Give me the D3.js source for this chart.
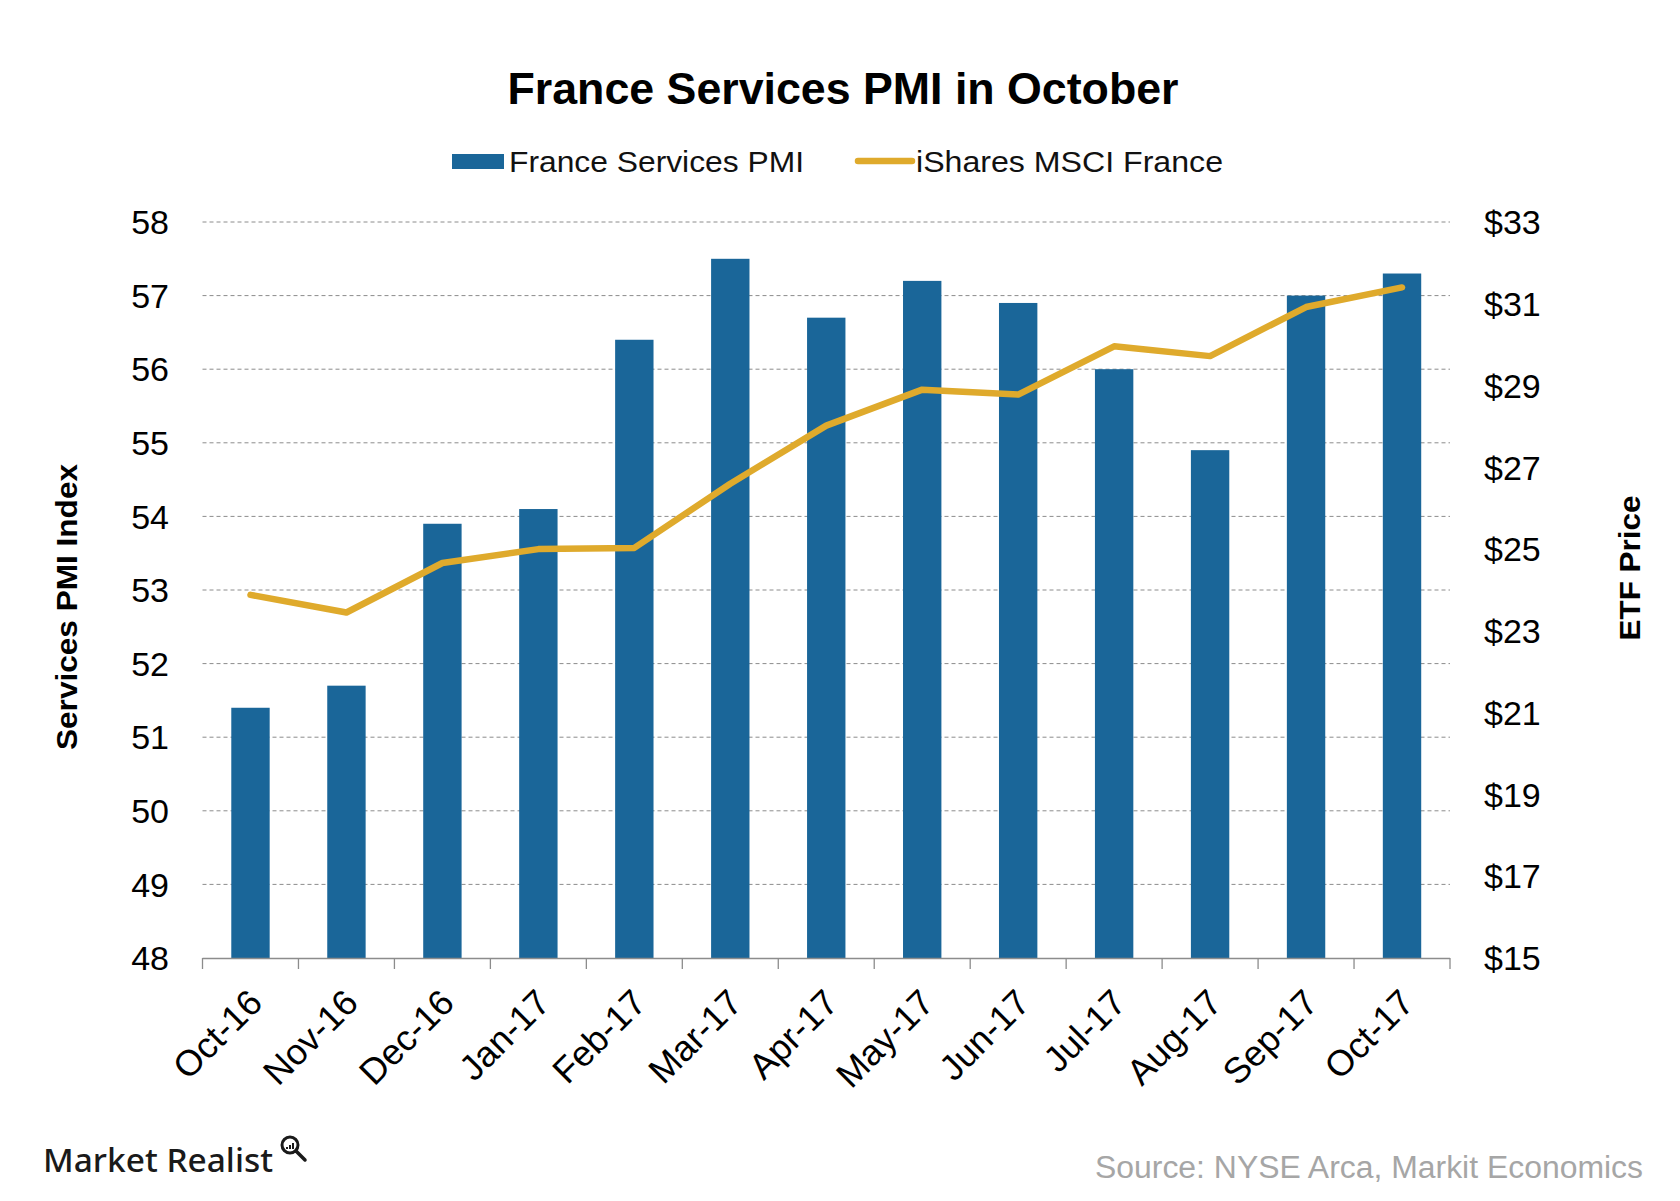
<!DOCTYPE html>
<html>
<head>
<meta charset="utf-8">
<script src="https://cdn.jsdelivr.net/npm/d3@7"></script>
<style>
  html, body { margin: 0; padding: 0; background: #fff; }
  svg { display: block; font-family: "Liberation Sans", Arial, sans-serif; }
</style>
</head>
<body>
<svg id="chart" width="1680" height="1201"></svg>
<script>
// ---- data ----
const categories = ["Oct-16","Nov-16","Dec-16","Jan-17","Feb-17","Mar-17","Apr-17","May-17","Jun-17","Jul-17","Aug-17","Sep-17","Oct-17"];
const pmiValues = [51.4, 51.7, 53.9, 54.1, 56.4, 57.5, 56.7, 57.2, 56.9, 56.0, 54.9, 57.0, 57.3];
const etfValues = [23.88, 23.45, 24.66, 25.0, 25.03, 26.6, 28.02, 28.9, 28.78, 29.96, 29.72, 30.92, 31.4];
const leftTicks = [48, 49, 50, 51, 52, 53, 54, 55, 56, 57, 58];
const rightTicks = [15, 17, 19, 21, 23, 25, 27, 29, 31, 33];
const seriesNames = ["France Services PMI", "iShares MSCI France"];
const titleText = "France Services PMI in October";
const leftAxisTitle = "Services PMI Index";
const rightAxisTitle = "ETF Price";
const sourceText = "Source: NYSE Arca, Markit Economics";
const logoText = "Market Realist";

// ---- layout ----
const svg = d3.select("#chart");
const plot = { left: 202.5, right: 1450, top: 222, bottom: 958 };
const barColor = "#1a6699";
const lineColor = "#dfaa2c";

const x = d3.scaleBand().domain(categories).range([plot.left, plot.right]).paddingInner(0.6).paddingOuter(0.3);
const yL = d3.scaleLinear().domain([48, 58]).range([plot.bottom, plot.top]);
const yR = d3.scaleLinear().domain([15, 33]).range([plot.bottom, plot.top]);

// title
svg.append("text").attr("x", 843).attr("y", 104).attr("text-anchor", "middle")
  .attr("font-size", 44).attr("font-weight", "bold").attr("fill", "#000")
  .attr("textLength", 671).attr("lengthAdjust", "spacingAndGlyphs")
  .text(titleText);

// legend
const lg = svg.append("g");
lg.append("rect").attr("x", 452).attr("y", 154).attr("width", 52).attr("height", 15).attr("fill", barColor);
lg.append("text").attr("x", 509).attr("y", 172).attr("font-size", 30).attr("fill", "#111")
  .attr("textLength", 295).attr("lengthAdjust", "spacingAndGlyphs").text(seriesNames[0]);
lg.append("line").attr("x1", 858).attr("x2", 912).attr("y1", 161).attr("y2", 161)
  .attr("stroke", lineColor).attr("stroke-width", 6.5).attr("stroke-linecap", "round");
lg.append("text").attr("x", 916).attr("y", 172).attr("font-size", 30).attr("fill", "#111")
  .attr("textLength", 307).attr("lengthAdjust", "spacingAndGlyphs").text(seriesNames[1]);

// gridlines
svg.append("g").selectAll("line").data(leftTicks.filter(d => d > 48)).join("line")
  .attr("x1", plot.left).attr("x2", plot.right)
  .attr("y1", d => yL(d)).attr("y2", d => yL(d))
  .attr("stroke", "#8c8c8c").attr("stroke-width", 1).attr("stroke-dasharray", "4,3");

// bars
svg.append("g").selectAll("rect").data(categories).join("rect")
  .attr("x", d => x(d)).attr("width", x.bandwidth())
  .attr("y", (d, i) => yL(pmiValues[i]))
  .attr("height", (d, i) => yL(48) - yL(pmiValues[i]))
  .attr("fill", barColor);

// x axis line + ticks at category boundaries
const ax = svg.append("g");
ax.append("line").attr("x1", plot.left).attr("x2", plot.right).attr("y1", plot.bottom + 0.5).attr("y2", plot.bottom + 0.5)
  .attr("stroke", "#8c8c8c").attr("stroke-width", 1.3);
const boundaries = d3.range(categories.length + 1).map(i => plot.left + i * x.step());
ax.selectAll("line.tk").data(boundaries).join("line").attr("class", "tk")
  .attr("x1", d => d).attr("x2", d => d).attr("y1", plot.bottom).attr("y2", plot.bottom + 11)
  .attr("stroke", "#8c8c8c").attr("stroke-width", 1.3);

// x labels
ax.selectAll("text").data(categories).join("text")
  .attr("transform", d => `translate(${x(d) + x.bandwidth() / 2 - 4},${plot.bottom + 29}) rotate(-45)`)
  .attr("text-anchor", "end").attr("dy", "0.7em")
  .attr("font-size", 36).attr("fill", "#000").text(d => d);

// left tick labels
svg.append("g").selectAll("text").data(leftTicks).join("text")
  .attr("x", 169).attr("y", d => yL(d)).attr("dy", "0.36em").attr("text-anchor", "end")
  .attr("font-size", 34).attr("fill", "#000").text(d => d);

// right tick labels
svg.append("g").selectAll("text").data(rightTicks).join("text")
  .attr("x", 1484).attr("y", d => yR(d)).attr("dy", "0.36em").attr("text-anchor", "start")
  .attr("font-size", 34).attr("fill", "#000").text(d => "$" + d);

// line
const line = d3.line()
  .x((d, i) => x(categories[i]) + x.bandwidth() / 2)
  .y(d => yR(d));
svg.append("path").datum(etfValues).attr("d", line)
  .attr("fill", "none").attr("stroke", lineColor).attr("stroke-width", 6.5)
  .attr("stroke-linejoin", "round").attr("stroke-linecap", "round");

// axis titles
svg.append("text").attr("transform", "translate(77,607) rotate(-90)").attr("text-anchor", "middle")
  .attr("font-size", 30).attr("font-weight", "bold").attr("fill", "#000")
  .attr("textLength", 286).attr("lengthAdjust", "spacingAndGlyphs").text(leftAxisTitle);
svg.append("text").attr("transform", "translate(1640,568) rotate(-90)").attr("text-anchor", "middle")
  .attr("font-size", 30).attr("font-weight", "bold").attr("fill", "#000")
  .attr("textLength", 145).attr("lengthAdjust", "spacingAndGlyphs").text(rightAxisTitle);

// footer: source
svg.append("text").attr("x", 1643).attr("y", 1178).attr("text-anchor", "end")
  .attr("font-size", 31).attr("fill", "#a6a6a6")
  .attr("textLength", 548).attr("lengthAdjust", "spacingAndGlyphs").text(sourceText);

// footer: logo
const logo = svg.append("g");
logo.append("text").attr("x", 43).attr("y", 1172).attr("font-size", 33).attr("font-weight", 500)
  .attr("font-family", "'Noto Sans', 'DejaVu Sans', sans-serif").attr("fill", "#1a1a1a")
  .attr("textLength", 230).attr("lengthAdjust", "spacingAndGlyphs").text(logoText);
logo.append("circle").attr("cx", 290).attr("cy", 1145).attr("r", 8)
  .attr("fill", "none").attr("stroke", "#1a1a1a").attr("stroke-width", 3);
logo.append("line").attr("x1", 296).attr("y1", 1151).attr("x2", 305).attr("y2", 1160)
  .attr("stroke", "#1a1a1a").attr("stroke-width", 3.5).attr("stroke-linecap", "round");
logo.selectAll("rect.b").data([0, 1, 2]).join("rect").attr("class", "b")
  .attr("x", d => 286 + d * 3).attr("y", d => 1147 - d * 2).attr("width", 2).attr("height", d => 2 + d * 2)
  .attr("fill", "#1a1a1a");
</script>
</body>
</html>
